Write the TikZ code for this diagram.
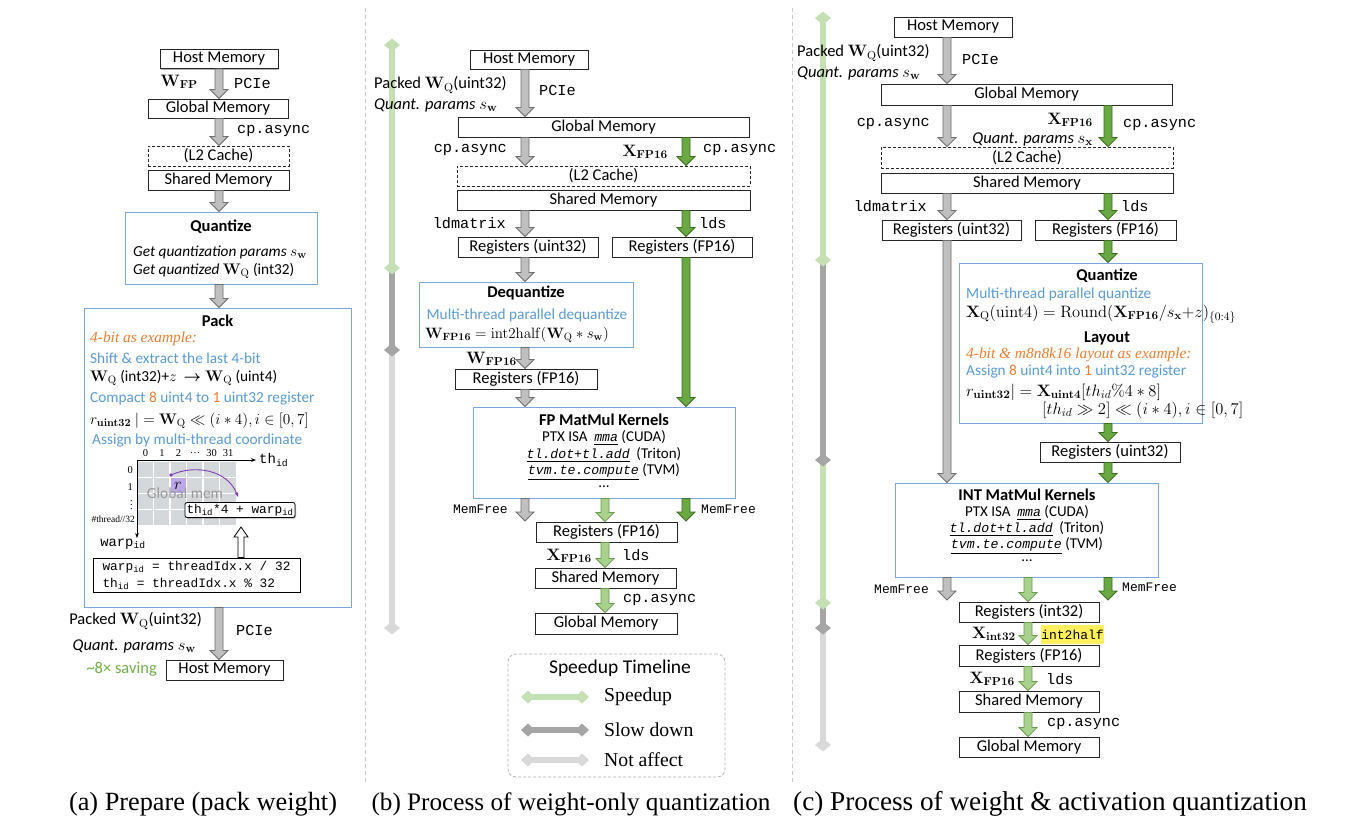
\RequirePackage{fix-cm}
\documentclass[tikz,border=0pt]{standalone}
\usepackage{amsmath,amssymb}
\usepackage[no-math]{fontspec}
\setmainfont{Carlito}
\setmonofont{Liberation Mono}
\newfontfamily\timesf{Liberation Serif}
\usetikzlibrary{calc,shadows,arrows.meta}
\definecolor{tlg}{HTML}{C5E0B4}
\definecolor{tdg}{HTML}{A5A5A5}
\definecolor{tlgr}{HTML}{D9D9D9}
\definecolor{boxblue}{HTML}{7DA7D9}
\definecolor{bluec}{HTML}{5B9BD5}
\definecolor{orgc}{HTML}{ED7D31}
\definecolor{greenc}{HTML}{70AD47}
\definecolor{arrgray}{HTML}{BFBFBF}
\definecolor{arrgrayd}{HTML}{6E6E6E}
\definecolor{arrdg}{HTML}{6AA843}
\definecolor{arrdgd}{HTML}{3D6E22}
\definecolor{arrlg}{HTML}{A9D18E}
\definecolor{arrlgd}{HTML}{6A9A4E}
\definecolor{gridg}{HTML}{D5D8DA}
\definecolor{cellp}{HTML}{BBA8E8}
\definecolor{arcp}{HTML}{7B3FB5}
\definecolor{hly}{HTML}{FFEF5C}
\newcommand\zbox{\fontsize{16.5}{19}\selectfont}
\newcommand\ztxt{\fontsize{15.3}{18}\selectfont}
\newcommand\ztit{\fontsize{16.5}{19}\selectfont\bfseries}
\newcommand\zmono{\fontsize{15.2}{17}\selectfont\ttfamily}
\newcommand\zsmono{\fontsize{13}{15}\selectfont\ttfamily}
\newcommand\zcode{\fontsize{12.8}{17}\selectfont\ttfamily}
\newcommand\zmath{\fontsize{16.5}{19}\selectfont}
\newcommand\zcap{\timesf}
\newcommand\zleg{\fontsize{19.7}{22}\selectfont\timesf}
\newcommand\zlegt{\fontsize{19.5}{22}\selectfont}
\newcommand\ztiny{\fontsize{10.5}{12}\selectfont\timesf}
\newcommand\zorg{\fontsize{15.4}{17}\selectfont\timesf\itshape}
\newcommand\zk{\fontsize{15}{17}\selectfont}
\newcommand\zkm[1]{\underline{\fontsize{13.2}{15}\selectfont\ttfamily\itshape #1}}
\newcommand\blk[3]{\path[#1] let \p1=#2, \p2=#3 in (\x1-4pt,\y1) -- (\x1+4pt,\y1) -- (\x1+4pt,\y2+9pt) -- (\x1+9pt,\y2+9pt) -- (\x1,\y2) -- (\x1-9pt,\y2+9pt) -- (\x1-4pt,\y2+9pt) -- cycle;}
\newcommand\hol[2]{\path[draw=black, line width=0.8pt, fill=white] let \p1=#1, \p2=#2 in (\x1-3pt,\y1) -- (\x1+3pt,\y1) -- (\x1+3pt,\y2-10pt) -- (\x1+7pt,\y2-10pt) -- (\x1,\y2) -- (\x1-7pt,\y2-10pt) -- (\x1-3pt,\y2-10pt) -- cycle;}
\newcommand\tseg[4]{\draw[#1, line width=6pt] (#2,#3) -- (#2,#4);}
\newcommand\tdia[3]{\fill[#1] (#2,#3) +(-8,0) -- +(0,-6.5) -- +(8,0) -- +(0,6.5) -- cycle;}
\newcommand\hdia[3]{\fill[#1] (#2,#3) +(-7,0) -- +(0,-6.5) -- +(7,0) -- +(0,6.5) -- cycle;}
\begin{document}
\begin{tikzpicture}[x=1pt,y=-1pt,
  mbox/.style={draw=black!85, line width=0.9pt, fill=white, inner sep=0pt, font=\zbox, drop shadow={shadow xshift=1.3pt, shadow yshift=-1.3pt, opacity=0.3, fill=black}},
  dbox/.style={draw=black!85, line width=0.9pt, dash pattern=on 3pt off 2pt, fill=white, inner sep=0pt, font=\zbox},
  bbox/.style={draw=boxblue, line width=1pt, fill=white, inner sep=0pt, drop shadow={shadow xshift=1.3pt, shadow yshift=-1.3pt, opacity=0.2, fill=black}},
  lab/.style={inner sep=0pt},
  garr/.style={fill=arrgray, draw=arrgrayd, line width=0.8pt},
  darr/.style={fill=arrdg, draw=arrdgd, line width=0.8pt},
  larr/.style={fill=arrlg, draw=arrlgd, line width=0.8pt}]
\useasboundingbox (0,0) rectangle (1351,835);
\fill[white] (0,0) rectangle (1351,835);
% separators
\draw[gray!45, dash pattern=on 4pt off 3pt, line width=0.8pt] (365,8) -- (365,782);
\draw[gray!45, dash pattern=on 4pt off 3pt, line width=0.8pt] (792,8) -- (792,782);
% ================= panel (a)
\coordinate (xa) at (219,0);
\node[mbox, minimum width=118, minimum height=19] (hA) at (219,59) {Host Memory};
\node[mbox, minimum width=140, minimum height=19] (gA) at (218,108.5) {Global Memory};
\node[dbox, minimum width=141, minimum height=20] (lA) at (218.5,156) {(L2 Cache)};
\node[mbox, minimum width=141, minimum height=20] (sA) at (218.5,180) {Shared Memory};
\node[bbox, minimum width=192, minimum height=72] (qA) at (221,248) {};
\node[bbox, minimum width=267, minimum height=299] (pA) at (217.5,457.5) {};
\node[mbox, minimum width=117, minimum height=20] (hA2) at (224.5,670) {Host Memory};
\blk{garr}{(hA.south -| xa)}{(gA.north -| xa)}
\blk{garr}{(gA.south -| xa)}{(lA.north -| xa)}
\blk{garr}{(sA.south -| xa)}{(qA.north -| xa)}
\blk{garr}{(qA.south -| xa)}{(pA.north -| xa)}
\blk{garr}{(pA.south -| xa)}{(hA2.north -| xa)}
\node[lab, anchor=east, font=\zmath] at (198,82) {$\mathbf W_{\mathbf{FP}}$};
\node[lab, anchor=west, font=\zmono] at (234,83) {PCIe};
\node[lab, anchor=west, font=\zmono] at (237,131) {cp.async};
\node[lab, font=\ztit] at (221,227) {Quantize};
\node[lab, anchor=west, font=\ztxt\itshape] at (133,252) {Get quantization params $s_{\mathbf w}$};
\node[lab, anchor=west, font=\ztxt] at (133,271) {\textit{Get quantized} $\mathbf W_{\mathrm Q}$ (int32)};
\node[lab, font=\ztit] at (217.5,321) {Pack};
\node[lab, anchor=west, font=\zorg, text=orgc] at (90,339) {4-bit as example:};
\node[lab, anchor=west, font=\ztxt, text=bluec] at (90,358) {Shift \& extract the last 4-bit};
\node[lab, anchor=west, font=\ztxt] at (90,378) {$\mathbf W_{\mathrm Q}$ (int32)+$z\,\boldsymbol{\rightarrow}\mathbf W_{\mathrm Q}$ (uint4)};
\node[lab, anchor=west, font=\ztxt, text=bluec] at (90,399) {Compact \textcolor{orgc}{8} uint4 to \textcolor{orgc}{1} uint32 register};
\node[lab, anchor=west, font=\ztxt] at (90,421) {$r_{\mathbf{uint32}}\ |=\mathbf W_{\mathrm Q}\ll(i*4), i\in[0,7]$};
\node[lab, anchor=west, font=\ztxt, text=bluec] at (92,440) {Assign by multi-thread coordinate};
% grid
\fill[gridg] (137,462) rectangle (236,525);
\fill[cellp] (170,478) rectangle (186.5,494);
\foreach \i in {1,...,5} \draw[white, line width=1.2pt] ({137+\i*16.5},462) -- ({137+\i*16.5},525);
\foreach \j in {1,2,3} \draw[white, line width=1.2pt] (137,{462+\j*15.75}) -- (236,{462+\j*15.75});
\draw[line width=0.7pt, -{Stealth[length=5pt]}] (137,460) -- (256,460);
\draw[line width=0.7pt, -{Stealth[length=5pt]}] (137,460) -- (137,538);
\foreach \t [count=\k from 0] in {0,1,2,\dots,30,31} \node[lab, font=\ztiny] at ({145.5+\k*16.5},453) {\t};
\node[lab, anchor=east, font=\ztiny] at (133,470) {0};
\node[lab, anchor=east, font=\ztiny] at (133,487) {1};
\node[lab, anchor=east, font=\ztiny] at (133,502) {$\vdots$};
\node[lab, anchor=east, font=\fontsize{9.5}{11}\selectfont\timesf] at (135,519) {\#thread//32};
\node[lab, anchor=west, font=\fontsize{14}{16}\selectfont\ttfamily] at (259,460) {th$_{\texttt{id}}$};
\node[lab, font=\fontsize{13.8}{16}\selectfont\ttfamily] at (123,544) {warp$_{\texttt{id}}$};
\node[lab, text=gray!80, font=\fontsize{15.4}{17}\selectfont] at (185,493) {Global mem};
\node[lab, font=\zmath] at (178,486) {$r$};
\draw[arcp, line width=0.9pt, -{Stealth[length=5pt]}] (171,475) .. controls (195,464) and (228,470) .. (238,497);
\fill[arcp] (171,475) circle (1.8);
\node[draw, rounded corners=2pt, fill=white, line width=0.8pt, minimum width=110, minimum height=15, inner sep=1pt, font=\zcode, drop shadow={shadow xshift=1pt, shadow yshift=-1pt, opacity=0.3, fill=black}] (thb) at (240,510) {th$_{\texttt{id}}$*4 + warp$_{\texttt{id}}$};
\node[draw, fill=white, line width=0.8pt, minimum width=207, minimum height=34, inner sep=0pt, align=left, font=\zcode] (cb) at (196.5,575) {warp$_{\texttt{id}}$ = threadIdx.x / 32\\th$_{\texttt{id}}$ = threadIdx.x \% 32};
\coordinate (htip) at (241,527);
\hol{(cb.north -| htip)}{(htip)}
\node[lab, anchor=east, font=\zbox] at (202,621) {Packed $\mathbf W_{\mathrm Q}$(uint32)};
\node[lab, anchor=east, font=\zbox\itshape] at (196,646) {Quant. params $s_{\mathbf w}$};
\node[lab, anchor=west, font=\zmono] at (236,630) {PCIe};
\node[lab, anchor=east, font=\zbox, text=greenc] at (157,669) {\textasciitilde8× saving};
% ================= panel (b)
\tseg{tlg}{392}{45}{268}
\tseg{tdg}{392}{268}{350}
\tseg{tlgr}{392}{350}{628}
\tdia{tlg}{392}{45}
\tdia{tlg}{392}{268}
\tdia{tdg}{392}{350}
\tdia{tlgr}{392}{628}
\coordinate (bg) at (525,0);
\coordinate (bG) at (686,0);
\coordinate (bl) at (605,0);
\node[mbox, minimum width=118, minimum height=19] (hB) at (529,59.5) {Host Memory};
\node[mbox, minimum width=291, minimum height=20] (gB) at (603.5,127) {Global Memory};
\node[dbox, minimum width=293, minimum height=20] (lB) at (603.5,176) {(L2 Cache)};
\node[mbox, minimum width=293, minimum height=20] (sB) at (603.5,200) {Shared Memory};
\node[mbox, minimum width=140, minimum height=20] (ruB) at (528,247) {Registers (uint32)};
\node[mbox, minimum width=140, minimum height=20] (rfB) at (682,247) {Registers (FP16)};
\node[bbox, minimum width=214, minimum height=65] (dqB) at (526,314.5) {};
\node[mbox, minimum width=142, minimum height=20] (rf2B) at (526,379) {Registers (FP16)};
\node[bbox, minimum width=262, minimum height=91] (fpB) at (604,452.5) {};
\node[mbox, minimum width=141, minimum height=20] (rf3B) at (606.5,532) {Registers (FP16)};
\node[mbox, minimum width=141, minimum height=20] (sB2) at (605.5,578) {Shared Memory};
\node[mbox, minimum width=142, minimum height=21] (gB2) at (606,623.5) {Global Memory};
\coordinate (bfl) at (525,521);
\coordinate (bfr) at (686,521);
\blk{garr}{(hB.south -| bg)}{(gB.north -| bg)}
\blk{garr}{(gB.south -| bg)}{(lB.north -| bg)}
\blk{darr}{(gB.south -| bG)}{(lB.north -| bG)}
\blk{garr}{(sB.south -| bg)}{(ruB.north -| bg)}
\blk{darr}{(sB.south -| bG)}{(rfB.north -| bG)}
\blk{garr}{(ruB.south -| bg)}{(dqB.north -| bg)}
\blk{garr}{(dqB.south -| bg)}{(rf2B.north -| bg)}
\blk{garr}{(rf2B.south -| bg)}{(fpB.north -| bg)}
\blk{darr}{(rfB.south -| bG)}{(fpB.north -| bG)}
\blk{garr}{(fpB.south -| bg)}{(bfl)}
\blk{larr}{(fpB.south -| bl)}{(rf3B.north -| bl)}
\blk{darr}{(fpB.south -| bG)}{(bfr)}
\blk{larr}{(rf3B.south -| bl)}{(sB2.north -| bl)}
\blk{larr}{(sB2.south -| bl)}{(gB2.north -| bl)}
\node[lab, anchor=west, font=\zbox] at (374,85) {Packed $\mathbf W_{\mathrm Q}$(uint32)};
\node[lab, anchor=west, font=\zbox\itshape] at (374,105) {Quant. params $s_{\mathbf w}$};
\node[lab, anchor=west, font=\zmono] at (539,90) {PCIe};
\node[lab, anchor=east, font=\zmono] at (507,150) {cp.async};
\node[lab, anchor=east, font=\zmath] at (668,152) {$\mathbf X_{\mathbf{FP16}}$};
\node[lab, anchor=west, font=\zmono] at (703,150) {cp.async};
\node[lab, anchor=east, font=\zmono] at (506,223) {ldmatrix};
\node[lab, anchor=west, font=\zmono] at (699,223) {lds};
\node[lab, font=\ztit] at (526,293) {Dequantize};
\node[lab, font=\ztxt, text=bluec] at (527,315) {Multi-thread parallel dequantize};
\node[lab, font=\fontsize{15}{17}\selectfont] at (517,335) {$\mathbf W_{\mathbf{FP16}}=\mathrm{int2half}(\mathbf W_{\mathrm Q}*s_{\mathbf w})$};
\node[lab, anchor=east, font=\zmath] at (517,359) {$\mathbf W_{\mathbf{FP16}}$};
\node[lab, font=\ztit] at (604,420) {FP MatMul Kernels};
\node[lab, font=\zk] at (604,438) {PTX ISA\ \ \zkm{mma} (CUDA)};
\node[lab, font=\zk] at (604,455) {\zkm{tl.dot+tl.add}\ \ (Triton)};
\node[lab, font=\zk] at (604,472) {\zkm{tvm.te.compute} (TVM)};
\node[lab, font=\zk] at (604,487) {...};
\node[lab, anchor=east, font=\zsmono] at (508,509) {MemFree};
\node[lab, anchor=west, font=\zsmono] at (701,509) {MemFree};
\node[lab, anchor=east, font=\zmath] at (592,556) {$\mathbf X_{\mathbf{FP16}}$};
\node[lab, anchor=west, font=\zmono] at (622,555) {lds};
\node[lab, anchor=west, font=\zmono] at (623,600) {cp.async};
% legend
\node[draw=gray!60, dash pattern=on 3pt off 2pt, rounded corners=8pt, line width=0.8pt, minimum width=217, minimum height=123, inner sep=0pt] (leg) at (616.5,715.5) {};
\node[lab, font=\zlegt] at (620,668) {Speedup Timeline};
\draw[tlg, line width=6pt] (528,697) -- (582,697);
\hdia{tlg}{528}{697}\hdia{tlg}{582}{697}
\draw[tdg, line width=6pt] (528,730) -- (582,730);
\hdia{tdg}{528}{730}\hdia{tdg}{582}{730}
\draw[tlgr, line width=6pt] (528,760) -- (582,760);
\hdia{tlgr}{528}{760}\hdia{tlgr}{582}{760}
\node[lab, anchor=west, font=\zleg] at (604,697) {Speedup};
\node[lab, anchor=west, font=\zleg] at (604,730) {Slow down};
\node[lab, anchor=west, font=\zleg] at (604,760) {Not affect};
% ================= panel (c)
\tseg{tlg}{823}{18}{260}
\tseg{tdg}{823}{260}{460}
\tseg{tlg}{823}{460}{603}
\tseg{tdg}{823}{603}{628}
\tseg{tlgr}{823}{628}{745}
\tdia{tlg}{823}{18}
\tdia{tlg}{823}{260}
\tdia{tdg}{823}{460}
\tdia{tlg}{823}{603}
\tdia{tdg}{823}{628}
\tdia{tlgr}{823}{745}
\coordinate (cg) at (947,0);
\coordinate (cG) at (1108,0);
\coordinate (cl) at (1028,0);
\node[mbox, minimum width=118, minimum height=20] (hC) at (953,27) {Host Memory};
\node[mbox, minimum width=291, minimum height=21] (gC) at (1026.5,94.5) {Global Memory};
\node[dbox, minimum width=292, minimum height=21] (lC) at (1027,157.5) {(L2 Cache)};
\node[mbox, minimum width=292, minimum height=20] (sC) at (1027,183) {Shared Memory};
\node[mbox, minimum width=139, minimum height=20] (ruC) at (951.5,230) {Registers (uint32)};
\node[mbox, minimum width=141, minimum height=20] (rfC) at (1105.5,230) {Registers (FP16)};
\node[bbox, minimum width=243, minimum height=160] (qC) at (1080.5,343) {};
\node[mbox, minimum width=140, minimum height=20] (ru2C) at (1110,452) {Registers (uint32)};
\node[bbox, minimum width=263, minimum height=94] (imC) at (1026.5,530) {};
\node[mbox, minimum width=140, minimum height=20] (riC) at (1029,612) {Registers (int32)};
\node[mbox, minimum width=140, minimum height=21] (rf2C) at (1029,655.5) {Registers (FP16)};
\node[mbox, minimum width=140, minimum height=21] (sC2) at (1029,701.5) {Shared Memory};
\node[mbox, minimum width=140, minimum height=20] (gC2) at (1029,747) {Global Memory};
\coordinate (cfl) at (947,600);
\coordinate (cfr) at (1108,600);
\blk{garr}{(hC.south -| cg)}{(gC.north -| cg)}
\blk{garr}{(gC.south -| cg)}{(lC.north -| cg)}
\blk{darr}{(gC.south -| cG)}{(lC.north -| cG)}
\blk{garr}{(sC.south -| cg)}{(ruC.north -| cg)}
\blk{darr}{(sC.south -| cG)}{(rfC.north -| cG)}
\blk{garr}{(ruC.south -| cg)}{(imC.north -| cg)}
\blk{darr}{(rfC.south -| cG)}{(qC.north -| cG)}
\blk{darr}{(qC.south -| cG)}{(ru2C.north -| cG)}
\blk{darr}{(ru2C.south -| cG)}{(imC.north -| cG)}
\blk{garr}{(imC.south -| cg)}{(cfl)}
\blk{larr}{(imC.south -| cl)}{(riC.north -| cl)}
\blk{darr}{(imC.south -| cG)}{(cfr)}
\blk{larr}{(riC.south -| cl)}{(rf2C.north -| cl)}
\blk{larr}{(rf2C.south -| cl)}{(sC2.north -| cl)}
\blk{larr}{(sC2.south -| cl)}{(gC2.north -| cl)}
\node[lab, anchor=west, font=\zbox] at (797,53) {Packed $\mathbf W_{\mathrm Q}$(uint32)};
\node[lab, anchor=west, font=\zbox\itshape] at (797,73) {Quant. params $s_{\mathbf w}$};
\node[lab, anchor=west, font=\zmono] at (962,59) {PCIe};
\node[lab, anchor=east, font=\zmono] at (930,124) {cp.async};
\node[lab, anchor=east, font=\zmath] at (1093,120) {$\mathbf X_{\mathbf{FP16}}$};
\node[lab, anchor=east, font=\zbox\itshape] at (1093,139) {Quant. params $s_{\mathbf x}$};
\node[lab, anchor=west, font=\zmono] at (1123,125) {cp.async};
\node[lab, anchor=east, font=\zmono] at (927,206) {ldmatrix};
\node[lab, anchor=west, font=\zmono] at (1121,206) {lds};
\node[lab, font=\ztit] at (1107,276) {Quantize};
\node[lab, anchor=west, font=\ztxt, text=bluec] at (966,294) {Multi-thread parallel quantize};
\node[lab, anchor=west, font=\fontsize{16.5}{19}\selectfont] at (966,314) {$\mathbf X_{\mathrm Q}(\mathrm{uint4})=\mathrm{Round}(\mathbf X_{\mathbf{FP16}}/s_{\mathbf x}{+}z)_{\{0:4\}}$};
\node[lab, font=\ztit] at (1107,338) {Layout};
\node[lab, anchor=west, font=\zorg, text=orgc] at (966,355) {4-bit \& m8n8k16 layout as example:};
\node[lab, anchor=west, font=\ztxt, text=bluec] at (966,372) {Assign \textcolor{orgc}{8} uint4 into \textcolor{orgc}{1} uint32 register};
\node[lab, anchor=west, font=\zmath] at (966,392) {$r_{\mathbf{uint32}}|=\mathbf X_{\mathbf{uint4}}[th_{id}\%4*8]$};
\node[lab, anchor=west, font=\zmath] at (1042,410) {$[th_{id}\gg 2]\ll(i*4), i\in[0,7]$};
\node[lab, font=\ztit] at (1027,495) {INT MatMul Kernels};
\node[lab, font=\zk] at (1027,513) {PTX ISA\ \ \zkm{mma} (CUDA)};
\node[lab, font=\zk] at (1027,529) {\zkm{tl.dot+tl.add}\ \ (Triton)};
\node[lab, font=\zk] at (1027,546) {\zkm{tvm.te.compute} (TVM)};
\node[lab, font=\zk] at (1027,561) {...};
\node[lab, anchor=east, font=\zsmono] at (929,589) {MemFree};
\node[lab, anchor=west, font=\zsmono] at (1122,587) {MemFree};
\node[lab, anchor=east, font=\zmath] at (1016,634) {$\mathbf X_{\mathbf{int32}}$};
\node[fill=hly, inner sep=0pt, minimum width=63, minimum height=19, font=\zsmono] (i2h) at (1072.5,634.5) {int2half};
\node[lab, anchor=east, font=\zmath] at (1015,679) {$\mathbf X_{\mathbf{FP16}}$};
\node[lab, anchor=west, font=\zmono] at (1046,679) {lds};
\node[lab, anchor=west, font=\zmono] at (1047,724) {cp.async};
% captions
\node[lab, font=\fontsize{26.3}{29}\selectfont\timesf] at (203,804) {(a) Prepare (pack weight)};
\node[lab, font=\fontsize{25.2}{29}\selectfont\timesf] at (571,804) {(b) Process of weight-only quantization};
\node[lab, font=\fontsize{27.2}{29}\selectfont\timesf] at (1050,804) {(c) Process of weight \& activation quantization};
\end{tikzpicture}
\end{document}
